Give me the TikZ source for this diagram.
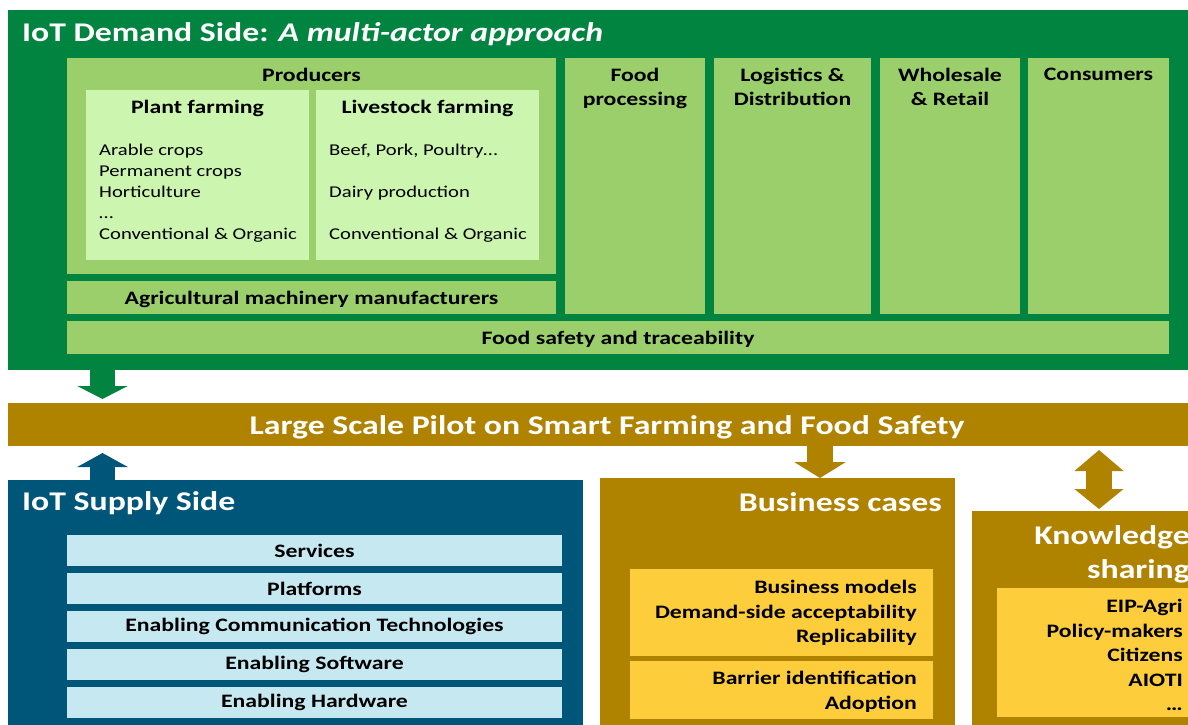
\documentclass[tikz,border=0pt]{standalone}
\usepackage{fontspec}
\setmainfont{Carlito}[FakeStretch=1.25]
\usetikzlibrary{positioning,arrows.meta}
\definecolor{demandgreen}{HTML}{00843F}
\definecolor{actorgreen}{HTML}{9BCF6B}
\definecolor{farmgreen}{HTML}{CCF5B0}
\definecolor{pilotgold}{HTML}{AF8300}
\definecolor{caseyellow}{HTML}{FDCD3B}
\definecolor{supplyblue}{HTML}{005679}
\definecolor{layerblue}{HTML}{C6E8F1}
\tikzset{%
   box/.style={inner sep=0pt, outer sep=0pt, anchor=north west},
   big/.style={font=\fontsize{27}{31}\selectfont\bfseries, text=white, inner sep=0pt},
   head/.style={font=\fontsize{19}{24}\selectfont\bfseries, align=center, inner sep=0pt},
   sub/.style={font=\fontsize{19}{24}\selectfont\bfseries, inner sep=0pt},
   item/.style={font=\fontsize{16.5}{21}\selectfont, align=left, inner sep=0pt},
   case/.style={font=\fontsize{19}{24.5}\selectfont\bfseries, align=right, inner sep=0pt},
   fat/.style={line width=25pt, -{Triangle[width=50pt,length=13pt]}},
}

\begin{document}
\begin{tikzpicture}[x=1pt, y=-1pt]
   \useasboundingbox (0,0) rectangle (1188,725);
   % demand side
   \node[box, fill=demandgreen, minimum width=1190pt, minimum height=360pt] (demand) at (8,10) {};
   \node[big, anchor=west] (demandt) at (22,34) {IoT Demand Side: \textit{A multi-actor approach}};
   \node[box, fill=actorgreen, minimum width=489pt, minimum height=216pt] (prod) at (67,58) {};
   \node[head, below=10pt of prod.north] (prodt) {Producers};
   \node[box, fill=farmgreen, minimum width=223pt, minimum height=170pt] (plant) at (86,90) {};
   \node[box, fill=farmgreen, minimum width=223pt, minimum height=170pt] (live) at (316,90) {};
   \node[sub, below=10pt of plant.north] (plantt) {Plant farming};
   \node[sub, below=10pt of live.north] (livet) {Livestock farming};
   \node[item, below right=54pt and 13pt of plant.north west] (plantl)
      {Arable crops\\ Permanent crops\\ Horticulture\\ …\\ Conventional \& Organic};
   \node[item, below right=54pt and 13pt of live.north west] (livel)
      {Beef, Pork, Poultry…\\ \mbox{}\\ Dairy production\\ \mbox{}\\ Conventional \& Organic};
   \node[box, fill=actorgreen, minimum width=489pt, minimum height=33pt] (agri) at (67,281) {};
   \node[head, yshift=-2pt] (agrit) at (agri) {Agricultural machinery manufacturers};
   \node[box, fill=actorgreen, minimum width=140pt, minimum height=256pt] (food) at (565,58) {};
   \node[box, fill=actorgreen, minimum width=157pt, minimum height=256pt] (logi) at (714,58) {};
   \node[box, fill=actorgreen, minimum width=140pt, minimum height=256pt] (whole) at (880,58) {};
   \node[box, fill=actorgreen, minimum width=141pt, minimum height=256pt] (cons) at (1028,58) {};
   \node[head, below=10pt of food.north] (foodt) {Food\\processing};
   \node[head, below=10pt of logi.north] (logit) {Logistics \&\\Distribution};
   \node[head, below=10pt of whole.north] (wholet) {Wholesale\\\& Retail};
   \node[head, below=10pt of cons.north] (const) {Consumers};
   \node[box, fill=actorgreen, minimum width=1102pt, minimum height=33pt] (safety) at (67,321) {};
   \node[head, yshift=-2pt] (safetyt) at (safety) {Food safety and traceability};
   % pilot
   \node[box, fill=pilotgold, minimum width=1190pt, minimum height=43pt] (pilot) at (8,403) {};
   \node[big] (pilott) at (607,427) {Large Scale Pilot on Smart Farming and Food Safety};
   % supply side
   \node[box, fill=supplyblue, minimum width=575pt, minimum height=250pt] (supply) at (8,480) {};
   \node[big, anchor=west] (supplyt) at (22,503) {IoT Supply Side};
   \node[box, fill=layerblue, minimum width=495pt, minimum height=31pt] (serv) at (67,535) {};
   \node[box, fill=layerblue, minimum width=495pt, minimum height=31pt, below=7pt of serv] (plat) {};
   \node[box, fill=layerblue, minimum width=495pt, minimum height=31pt, below=7pt of plat] (comm) {};
   \node[box, fill=layerblue, minimum width=495pt, minimum height=31pt, below=7pt of comm] (soft) {};
   \node[box, fill=layerblue, minimum width=495pt, minimum height=31pt, below=7pt of soft] (hard) {};
   \node[head] (servt) at (serv) {Services};
   \node[head] (platt) at (plat) {Platforms};
   \node[head] (commt) at (comm) {Enabling Communication Technologies};
   \node[head] (softt) at (soft) {Enabling Software};
   \node[head] (hardt) at (hard) {Enabling Hardware};
   % business cases
   \node[box, fill=pilotgold, minimum width=355pt, minimum height=250pt] (biz) at (600,478) {};
   \node[big, anchor=east] (bizt) at (942,502) {Business cases};
   \node[box, fill=caseyellow, minimum width=303pt, minimum height=87pt] (model) at (630,569) {};
   \node[box, fill=caseyellow, minimum width=303pt, minimum height=58pt] (adopt) at (630,661) {};
   \node[case, anchor=north east] (modelt) at (917,580)
      {Business models\\ Demand-side acceptability\\ Replicability};
   \node[case, anchor=north east] (adoptt) at (917,671)
      {Barrier identification\\ Adoption};
   % knowledge sharing
   \node[box, fill=pilotgold, minimum width=230pt, minimum height=220pt] (know) at (972,511) {};
   \node[big, align=right, anchor=north east, font=\fontsize{27}{34}\selectfont\bfseries] (knowt) at (1190,525) {Knowledge\\sharing};
   \node[box, fill=caseyellow, minimum width=200pt, minimum height=129pt] (actors) at (997,588) {};
   \node[case, anchor=north east] (actorst) at (1183,599)
      {EIP-Agri\\ Policy-makers\\ Citizens\\ AIOTI\\ …};
   % arrows
   \draw[fat, demandgreen, shorten >=4pt] ([xshift=94.5pt]demand.south west) -- ([xshift=94.5pt]pilot.north west);
   \draw[fat, supplyblue, shorten >=7pt, -{Triangle[width=50pt,length=14pt]}] ([xshift=94.5pt]supply.north west) -- ([xshift=94.5pt]pilot.south west);
   \draw[fat, pilotgold, line width=26pt, -{Triangle[width=51pt,length=16pt]}] ([xshift=812pt]pilot.south west) -- ([xshift=220pt]biz.north west);
   \draw[fat, pilotgold, line width=26pt, shorten <=4pt, shorten >=2pt, {Triangle[width=48pt,length=21pt]}-{Triangle[width=48pt,length=20pt]}] ([xshift=1091pt]pilot.south west) -- ([xshift=127pt]know.north west);
\end{tikzpicture}
\end{document}
